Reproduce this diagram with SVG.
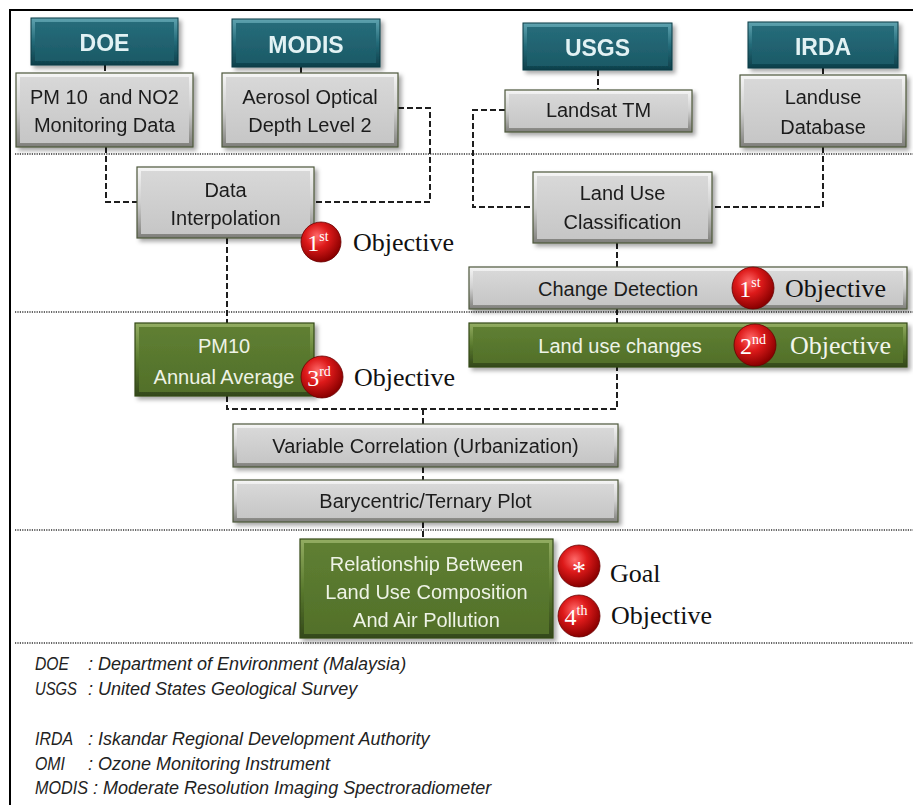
<svg xmlns="http://www.w3.org/2000/svg" width="913" height="805" viewBox="0 0 913 805">
<style>
  .sans { font-family: "Liberation Sans", Arial, sans-serif; }
  .serif { font-family: "Liberation Serif", "Times New Roman", serif; }
  .hdr { font-family: "Liberation Sans", Arial, sans-serif; font-weight: bold; font-size: 23px; fill: #e2f2f4; text-anchor: middle; }
  .gt { font-family: "Liberation Sans", Arial, sans-serif; font-size: 20px; fill: #1c1c1c; text-anchor: middle; }
  .wt { font-family: "Liberation Sans", Arial, sans-serif; font-size: 20px; fill: #eef3e6; text-anchor: middle; }
  .obj { font-family: "Liberation Serif", "Times New Roman", serif; font-size: 26px; fill: #111; }
  .objw { font-family: "Liberation Serif", "Times New Roman", serif; font-size: 26px; fill: #f2f5ec; }
  .bt { font-family: "Liberation Serif", "Times New Roman", serif; font-size: 24px; fill: #fff; text-anchor: middle; }
  .sup { font-size: 14px; }
  .leg { font-family: "Liberation Sans", Arial, sans-serif; font-style: italic; font-size: 18px; fill: #222; }
  .te { fill: url(#tealEdge); stroke: #0d3a44; stroke-width: 1; }
  .tf { fill: url(#tealFace); }
  .ge { fill: url(#grayEdge); stroke: #4d573a; stroke-width: 1.2; }
  .gf { fill: url(#grayFace); }
  .ve { fill: url(#greenEdge); stroke: #34481a; stroke-width: 1.2; }
  .vf { fill: url(#greenFace); }
  .badge { fill: url(#redBall); stroke: #6a0000; stroke-width: 0.8; }
  .dash { fill: none; stroke: #1e1e1e; stroke-width: 2; stroke-dasharray: 6 3; }
  .sep { fill: none; stroke: #333; stroke-width: 1.6; stroke-dasharray: 1.2 1.2; }
  .sh { filter: url(#shadow); }
</style>
<defs>
  <filter id="shadow" x="-10%" y="-20%" width="130%" height="150%">
    <feDropShadow dx="3" dy="3" stdDeviation="2" flood-color="#000" flood-opacity="0.35"/>
  </filter>
  <linearGradient id="tealEdge" x1="0" y1="0" x2="0" y2="1">
    <stop offset="0" stop-color="#5fa3b0"/>
    <stop offset="0.5" stop-color="#236a78"/>
    <stop offset="1" stop-color="#0e3f4a"/>
  </linearGradient>
  <linearGradient id="tealFace" x1="0" y1="0" x2="0" y2="1">
    <stop offset="0" stop-color="#266c7a"/>
    <stop offset="1" stop-color="#1c5a67"/>
  </linearGradient>
  <linearGradient id="grayEdge" x1="0" y1="0" x2="0" y2="1">
    <stop offset="0" stop-color="#f6f6f6"/>
    <stop offset="0.5" stop-color="#cfcfcf"/>
    <stop offset="1" stop-color="#7e7e7a"/>
  </linearGradient>
  <linearGradient id="grayFace" x1="0" y1="0" x2="0" y2="1">
    <stop offset="0" stop-color="#d8d8d8"/>
    <stop offset="1" stop-color="#c6c6c6"/>
  </linearGradient>
  <linearGradient id="greenEdge" x1="0" y1="0" x2="0" y2="1">
    <stop offset="0" stop-color="#93ad62"/>
    <stop offset="0.5" stop-color="#5a7a2e"/>
    <stop offset="1" stop-color="#33481a"/>
  </linearGradient>
  <linearGradient id="greenFace" x1="0" y1="0" x2="0" y2="1">
    <stop offset="0" stop-color="#5f7f32"/>
    <stop offset="1" stop-color="#52702a"/>
  </linearGradient>
  <radialGradient id="redBall" cx="0.4" cy="0.35" r="0.65">
    <stop offset="0" stop-color="#ff6a6a"/>
    <stop offset="0.45" stop-color="#dd1a1a"/>
    <stop offset="1" stop-color="#8a0000"/>
  </radialGradient>
</defs>

<rect x="0" y="0" width="913" height="805" fill="#fff"/>

<!-- frame -->
<path d="M913 10 H10 V805" fill="none" stroke="#000" stroke-width="2"/>

<!-- separators -->
<g id="separators">
  <line class="sep" x1="15" y1="154" x2="913" y2="154"/>
  <line class="sep" x1="15" y1="312" x2="913" y2="312"/>
  <line class="sep" x1="15" y1="530" x2="913" y2="530"/>
  <line class="sep" x1="15" y1="643" x2="913" y2="643"/>
</g>

<!-- connectors -->
<g id="connectors">
  <path class="dash" d="M105 65 V73"/>
  <path class="dash" d="M301 67 V73"/>
  <path class="dash" d="M598 70 V90"/>
  <path class="dash" d="M823 68 V75"/>
  <path class="dash" d="M106 147 V202 H137"/>
  <path class="dash" d="M398 108 H430 V202 H314"/>
  <path class="dash" d="M505 110 H473 V207 H533"/>
  <path class="dash" d="M823 147 V207 H712"/>
  <path class="dash" d="M227 238 V323"/>
  <path class="dash" d="M617 243 V267"/>
  <path class="dash" d="M617 309 V323"/>
  <path class="dash" d="M227 396 V409 H617 V367"/>
  <path class="dash" d="M423 409 V424"/>
  <path class="dash" d="M423 467 V480"/>
  <path class="dash" d="M423 522 V538"/>
</g>

<!-- headers -->
<g id="doe" class="sh">
  <rect class="te" x="31" y="18" width="147" height="47"/>
  <rect class="tf" x="35" y="22" width="139" height="39"/>
  <text class="hdr" x="104.5" y="51">DOE</text>
</g>
<g id="modis" class="sh">
  <rect class="te" x="232" y="19" width="148" height="48"/>
  <rect class="tf" x="236" y="23" width="140" height="40"/>
  <text class="hdr" x="306" y="53">MODIS</text>
</g>
<g id="usgs" class="sh">
  <rect class="te" x="523" y="23" width="149" height="47"/>
  <rect class="tf" x="527" y="27" width="141" height="39"/>
  <text class="hdr" x="597.5" y="56">USGS</text>
</g>
<g id="irda" class="sh">
  <rect class="te" x="748" y="22" width="150" height="46"/>
  <rect class="tf" x="752" y="26" width="142" height="38"/>
  <text class="hdr" x="823" y="55">IRDA</text>
</g>

<!-- data boxes -->
<g id="pm10-no2" class="sh">
  <rect class="ge" x="16" y="73" width="177" height="74"/>
  <rect class="gf" x="20" y="77" width="169" height="66"/>
  <text class="gt" x="104.5" y="104" xml:space="preserve" style="white-space:pre">PM 10  and NO2</text>
  <text class="gt" x="104.5" y="132">Monitoring Data</text>
</g>
<g id="aerosol" class="sh">
  <rect class="ge" x="222" y="73" width="176" height="74"/>
  <rect class="gf" x="226" y="77" width="168" height="66"/>
  <text class="gt" x="310" y="104">Aerosol Optical</text>
  <text class="gt" x="310" y="132">Depth Level 2</text>
</g>
<g id="landsat" class="sh">
  <rect class="ge" x="505" y="90" width="187" height="42"/>
  <rect class="gf" x="509" y="94" width="179" height="34"/>
  <text class="gt" x="598.5" y="117">Landsat TM</text>
</g>
<g id="landuse-db" class="sh">
  <rect class="ge" x="740" y="75" width="166" height="72"/>
  <rect class="gf" x="744" y="79" width="158" height="64"/>
  <text class="gt" x="823" y="104">Landuse</text>
  <text class="gt" x="823" y="134">Database</text>
</g>

<g id="data-interpolation" class="sh">
  <rect class="ge" x="137" y="167" width="177" height="71"/>
  <rect class="gf" x="141" y="171" width="169" height="63"/>
  <text class="gt" x="225.5" y="197">Data</text>
  <text class="gt" x="225.5" y="225">Interpolation</text>
</g>
<g id="land-use-classification" class="sh">
  <rect class="ge" x="533" y="172" width="179" height="71"/>
  <rect class="gf" x="537" y="176" width="171" height="63"/>
  <text class="gt" x="622.5" y="200">Land Use</text>
  <text class="gt" x="622.5" y="229">Classification</text>
</g>

<g id="obj1-left">
  <circle class="badge" cx="321" cy="242" r="20"/>
  <text class="bt" x="318" y="251">1<tspan class="sup" dy="-10">st</tspan></text>
  <text class="obj" x="353" y="251">Objective</text>
</g>

<g id="change-detection">
  <g class="sh">
    <rect class="ge" x="469" y="267" width="438" height="42"/>
    <rect class="gf" x="473" y="271" width="430" height="34"/>
  </g>
  <text class="gt" x="618" y="296">Change Detection</text>
  <circle class="badge" cx="753" cy="288" r="21"/>
  <text class="bt" x="750" y="297">1<tspan class="sup" dy="-10">st</tspan></text>
  <text class="obj" x="785" y="297">Objective</text>
</g>

<g id="land-use-changes">
  <g class="sh">
    <rect class="ve" x="469" y="323" width="438" height="44"/>
    <rect class="vf" x="473" y="327" width="430" height="36"/>
  </g>
  <text class="wt" x="620" y="353">Land use changes</text>
  <circle class="badge" cx="755" cy="345" r="21"/>
  <text class="bt" x="753" y="354">2<tspan class="sup" dy="-10">nd</tspan></text>
  <text class="objw" x="790" y="354">Objective</text>
</g>

<g id="pm10-annual">
  <g class="sh">
    <rect class="ve" x="135" y="323" width="179" height="73"/>
    <rect class="vf" x="139" y="327" width="171" height="65"/>
  </g>
  <text class="wt" x="224" y="353">PM10</text>
  <text class="wt" x="224" y="384">Annual Average</text>
  <circle class="badge" cx="322" cy="377" r="21"/>
  <text class="bt" x="319" y="386">3<tspan class="sup" dy="-10">rd</tspan></text>
  <text class="obj" x="354" y="386">Objective</text>
</g>

<g id="variable-correlation" class="sh">
  <rect class="ge" x="233" y="424" width="385" height="43"/>
  <rect class="gf" x="237" y="428" width="377" height="35"/>
  <text class="gt" x="425.5" y="453">Variable Correlation (Urbanization)</text>
</g>
<g id="barycentric" class="sh">
  <rect class="ge" x="233" y="480" width="385" height="42"/>
  <rect class="gf" x="237" y="484" width="377" height="34"/>
  <text class="gt" x="425.5" y="508">Barycentric/Ternary Plot</text>
</g>

<g id="relationship" class="sh">
  <rect class="ve" x="300" y="539" width="253" height="99"/>
  <rect class="vf" x="304" y="543" width="245" height="91"/>
  <text class="wt" x="426.5" y="571">Relationship Between</text>
  <text class="wt" x="426.5" y="599">Land Use Composition</text>
  <text class="wt" x="426.5" y="627">And Air Pollution</text>
</g>

<g id="goal">
  <circle class="badge" cx="579" cy="566" r="21"/>
  <text class="bt" x="579" y="580" style="font-size:28px">*</text>
  <text class="obj" x="610" y="582">Goal</text>
</g>
<g id="obj4">
  <circle class="badge" cx="579" cy="616" r="21"/>
  <text class="bt" x="576" y="625">4<tspan class="sup" dy="-10">th</tspan></text>
  <text class="obj" x="611" y="624">Objective</text>
</g>

<!-- legend -->
<g id="legend">
  <text class="leg" x="35" y="670" textLength="34" lengthAdjust="spacingAndGlyphs">DOE</text>
  <text class="leg" x="88" y="670">: Department of Environment (Malaysia)</text>
  <text class="leg" x="35" y="695" textLength="42" lengthAdjust="spacingAndGlyphs">USGS</text>
  <text class="leg" x="88" y="695">: United States Geological Survey</text>
  <text class="leg" x="35" y="745" textLength="38" lengthAdjust="spacingAndGlyphs">IRDA</text>
  <text class="leg" x="88" y="745">: Iskandar Regional Development Authority</text>
  <text class="leg" x="35" y="770" textLength="30" lengthAdjust="spacingAndGlyphs">OMI</text>
  <text class="leg" x="88" y="770">: Ozone Monitoring Instrument</text>
  <text class="leg" x="35" y="794" textLength="53" lengthAdjust="spacingAndGlyphs">MODIS</text>
  <text class="leg" x="93" y="794">: Moderate Resolution Imaging Spectroradiometer</text>
</g>
</svg>
